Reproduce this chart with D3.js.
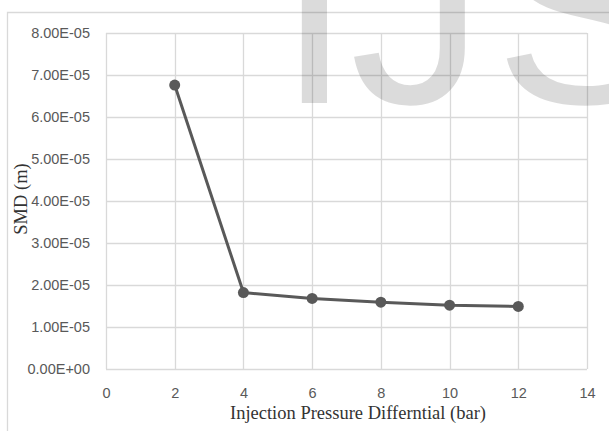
<!DOCTYPE html>
<html>
<head>
<meta charset="utf-8">
<script src="https://cdn.jsdelivr.net/npm/d3@7"></script>
<style>
  html, body { margin: 0; padding: 0; background: #fff; }
  svg { display: block; }
</style>
</head>
<body>
<svg id="chart" width="609" height="431"></svg>
<script>
const pressure = [2, 4, 6, 8, 10, 12];
const smd = [6.76e-5, 1.82e-5, 1.68e-5, 1.59e-5, 1.52e-5, 1.49e-5];
const xTicks = [0, 2, 4, 6, 8, 10, 12, 14];
const yTicks = [0, 1e-5, 2e-5, 3e-5, 4e-5, 5e-5, 6e-5, 7e-5, 8e-5];
const xTitle = "Injection Pressure Differntial (bar)";
const yTitle = "SMD (m)";
const watermarkLetters = ["I", "J", "S", "E", "R"];

const svg = d3.select("#chart");
const W = 609, H = 431;
const plot = { left: 106, right: 587, top: 33, bottom: 369 };

const x = d3.scaleLinear().domain([0, 14]).range([plot.left, plot.right]);
const y = d3.scaleLinear().domain([0, 8e-5]).range([plot.bottom, plot.top]);

svg.append("rect").attr("width", W).attr("height", H).attr("fill", "#fff");

svg.append("path")
  .attr("d", `M7.5,${H} V12.5 H${W}`)
  .attr("fill", "none").attr("stroke", "#d9d9d9").attr("stroke-width", 1.3);

const grid = svg.append("g").attr("stroke", "#d9d9d9").attr("stroke-width", 1.3);
grid.selectAll("line.h").data(yTicks).join("line")
  .attr("x1", plot.left).attr("x2", plot.right)
  .attr("y1", d => Math.round(y(d)) + 0.5).attr("y2", d => Math.round(y(d)) + 0.5);
grid.selectAll("line.v").data(xTicks).join("line")
  .attr("y1", plot.top).attr("y2", plot.bottom)
  .attr("x1", d => Math.round(x(d)) + 0.5).attr("x2", d => Math.round(x(d)) + 0.5);

const yAxis = d3.axisLeft(y).tickValues(yTicks).tickSize(0).tickPadding(0)
  .tickFormat(d => d.toExponential(2).replace(/e([+-])(\d)$/, "E$10$2").toUpperCase());
const gy = svg.append("g").attr("transform", "translate(90,0)").call(yAxis);
gy.select(".domain").remove();
gy.selectAll("text").attr("font-family", "'Liberation Sans', Arial, sans-serif")
  .attr("font-size", "14.5px").attr("fill", "#595959");

const xAxis = d3.axisBottom(x).tickValues(xTicks).tickSize(0).tickPadding(0).tickFormat(d3.format("d"));
const gx = svg.append("g").attr("transform", "translate(0,388)").call(xAxis);
gx.select(".domain").remove();
gx.selectAll("text").attr("font-family", "'Liberation Sans', Arial, sans-serif")
  .attr("font-size", "14.5px").attr("fill", "#595959");

const pts = pressure.map((p, i) => [p, smd[i]]);
svg.append("path").datum(pts)
  .attr("d", d3.line().x(d => x(d[0])).y(d => y(d[1])))
  .attr("fill", "none").attr("stroke", "#595959").attr("stroke-width", 3)
  .attr("stroke-linejoin", "round");
svg.selectAll("circle.pt").data(pts).join("circle")
  .attr("cx", d => x(d[0])).attr("cy", d => y(d[1])).attr("r", 5.5)
  .attr("fill", "#595959");

svg.append("text").attr("x", 358).attr("y", 419).attr("text-anchor", "middle")
  .attr("font-family", "'Liberation Serif', 'Times New Roman', serif")
  .attr("font-size", "18.5px").attr("fill", "#333").text(xTitle);
svg.append("text").attr("transform", "translate(27,199) rotate(-90)").attr("text-anchor", "middle")
  .attr("font-family", "'Liberation Serif', 'Times New Roman', serif")
  .attr("font-size", "18.5px").attr("fill", "#333").text(yTitle);

// watermark: letters placed by their ink edges (measured via canvas)
const ctx = document.createElement("canvas").getContext("2d");
function ink(ch, size) {
  ctx.font = `${size}px "Liberation Sans"`;
  const m = ctx.measureText(ch);
  return { left: -m.actualBoundingBoxLeft, right: m.actualBoundingBoxRight, adv: m.width };
}
const i100 = ink("I", 100);
const wmSize = 100 * 27 / Math.max(1, i100.right - i100.left);
const posI = 298 - ink("I", wmSize).left;
const posJ = 468 - ink("J", wmSize).right;
const posS = 503 - ink("S", wmSize).left;
const posE = posS + ink("S", wmSize).adv;
const posR = posE + ink("E", wmSize).adv;
const wmX = [posI, posJ, posS, posE, posR];

const wm = svg.append("text").attr("y", 103)
  .attr("font-family", "'Liberation Sans', Arial, sans-serif")
  .attr("font-size", wmSize + "px")
  .attr("fill", "#000").attr("fill-opacity", 0.14);
wm.selectAll("tspan").data(watermarkLetters).join("tspan")
  .attr("x", (d, i) => wmX[i]).text(d => d);
</script>
</body>
</html>
